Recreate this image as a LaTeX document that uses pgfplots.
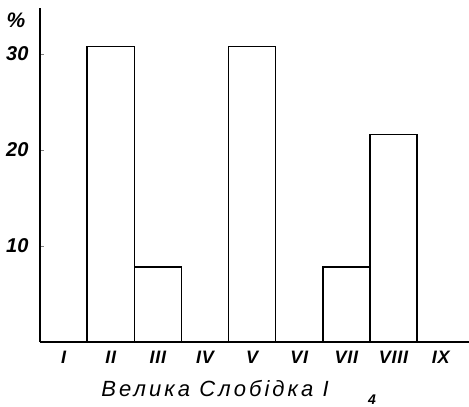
\documentclass[border=0pt]{standalone}
\usepackage{fontspec}
\setmainfont{Liberation Sans}
\newfontfamily\lblfont[LetterSpace=14]{Liberation Sans}
\newfontfamily\tickfont[LetterSpace=4]{Liberation Sans}
\usepackage{pgfplots}
\pgfplotsset{compat=1.18}
\begin{document}
\begin{tikzpicture}
\begin{axis}[
  at={(0,0)}, anchor=south west,
  width=429pt, height=334pt, scale only axis,
  xmin=-0.5, xmax=8.6, ymin=0, ymax=34.8,
  axis x line=bottom, axis y line=left,
  axis line style={-, line width=1.2pt},
  xtick={0,1,2,3,4,5,6,7,8},
  xticklabels={I,II,III,IV,V,VI,VII,VIII,IX},
  ytick={10,20,30},
  x tick style={draw=none},
  y tick style={line width=0.8pt},
  tick align=inside, major tick length=4pt,
  /pgf/number format/assume math mode=true,
  xticklabel style={font=\tickfont\fontsize{18}{18}\selectfont\itshape\bfseries, anchor=center, yshift=-15pt},
  yticklabel style={font=\fontsize{20}{20}\selectfont\itshape\bfseries, xshift=-8pt},
  clip=false,
]
\addplot[ybar, bar width=1, bar shift=0, draw=black, fill=white, line width=1.5pt]
  coordinates {(1,30.8) (2,7.8) (4,30.8) (6,7.8) (7,21.6)};
\node[font=\fontsize{21}{21}\selectfont\bfseries\itshape] at (rel axis cs:0,1) [xshift=-24pt, yshift=-12pt] {\%};
\node[font=\lblfont\fontsize{22}{22}\selectfont\itshape] at (rel axis cs:0.408,0) [yshift=-47pt] {Велика Слобідка I};
\node[font=\fontsize{14}{14}\selectfont\bfseries\itshape] at (rel axis cs:0.774,0) [yshift=-58pt] {4};
\end{axis}
\pgfresetboundingbox
\path (-40pt,-65pt) rectangle (429pt,342pt);
\end{tikzpicture}
\end{document}
